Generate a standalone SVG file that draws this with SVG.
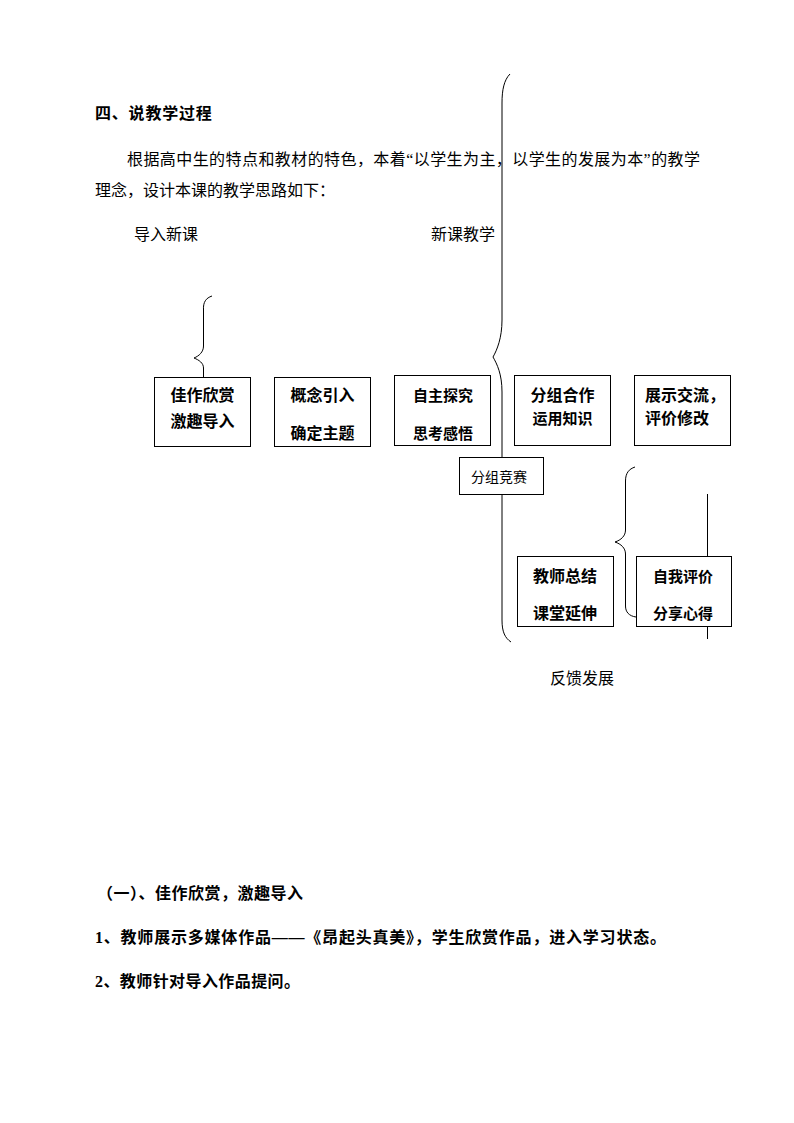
<svg xmlns="http://www.w3.org/2000/svg" width="794" height="1123" viewBox="0 0 794 1123">
<style>
text{font-family:"Liberation Serif","Noto Sans CJK SC",serif;fill:#000}
.t{font-size:16px}
.b{font-size:16px;font-weight:bold}
.bs{font-size:15px;font-weight:bold}
.m{text-anchor:middle}
.box{fill:#fff;stroke:#000;stroke-width:1}
.ln{fill:none;stroke:#000;stroke-width:1}
</style>
<rect width="794" height="1123" fill="#fff"/>
<g id="text-top">
<text class="b" x="95" y="119" letter-spacing="0.8">四、说教学过程</text>
<text class="t" x="127" y="165" textLength="573" lengthAdjust="spacing">根据高中生的特点和教材的特色，本着“以学生为主，以学生的发展为本”的教学</text>
<text class="t" x="95" y="196">理念，设计本课的教学思路如下：</text>
<text class="t" x="134" y="240">导入新课</text>
<text class="t" x="431" y="240">新课教学</text>
<text class="t" x="550" y="684">反馈发展</text>
</g>
<g id="connectors">
<path class="ln" d="M510,74 C504,80 502,90 502,103 L502,320 C502,338 497,350 493,357 C497,364 502,374 502,392 L502,620 C502,632 505,638 511,642"/>
<path class="ln" d="M212,296 C206,298 203,302 203.5,310 L203.5,346 C203.5,352 199,356 194,358 C199,360 203.5,363 203.5,368 L203.5,377"/>
<path class="ln" d="M635,467 C629,469 625.5,473 625.5,481 L625.5,530 C625.5,536 621,540 615,542 C621,544 625.5,548 625.5,554 L625.5,606 C625.5,612 629,616 636,617"/>
<path class="ln" d="M707.5,494 L707.5,556 M707.5,626 L707.5,639"/>
</g>
<g id="n1"><rect class="box" x="154.5" y="377.5" width="96" height="69"/><text class="b m" x="202.5" y="401">佳作欣赏</text><text class="b m" x="202.5" y="427">激趣导入</text></g>
<g id="n2"><rect class="box" x="274.5" y="377.5" width="96" height="69"/><text class="b m" x="322.5" y="401">概念引入</text><text class="b m" x="322.5" y="439">确定主题</text></g>
<g id="n3"><rect class="box" x="394.5" y="375.5" width="96" height="70"/><text class="bs m" x="443" y="401">自主探究</text><text class="bs m" x="443" y="439">思考感悟</text></g>
<g id="n4"><rect class="box" x="514.5" y="375.5" width="96" height="70"/><text class="b m" x="562.5" y="401">分组合作</text><text class="bs m" x="562.5" y="424">运用知识</text></g>
<g id="n5"><rect class="box" x="634.5" y="375.5" width="96" height="70"/><text class="b" x="645" y="401">展示交流，</text><text class="b" x="645" y="424">评价修改</text></g>
<g id="n6"><rect class="box" x="459.5" y="457.5" width="84" height="37"/><text class="m" x="499" y="482" style="font-size:14px">分组竞赛</text></g>
<g id="n7"><rect class="box" x="517.5" y="556.5" width="96" height="70"/><text class="b m" x="565" y="582">教师总结</text><text class="b m" x="565" y="619">课堂延伸</text></g>
<g id="n8"><rect class="box" x="636.5" y="556.5" width="95" height="70"/><text class="bs m" x="683" y="582">自我评价</text><text class="bs m" x="683" y="619">分享心得</text></g>
<g id="text-bottom">
<text class="b" x="97" y="899" textLength="206" lengthAdjust="spacing">（一）、佳作欣赏，激趣导入</text>
<text class="b" x="95" y="943" textLength="571" lengthAdjust="spacing">1、教师展示多媒体作品——《昂起头真美》，学生欣赏作品，进入学习状态。</text>
<text class="b" x="95" y="987" textLength="205" lengthAdjust="spacing">2、教师针对导入作品提问。</text>
</g>
</svg>
